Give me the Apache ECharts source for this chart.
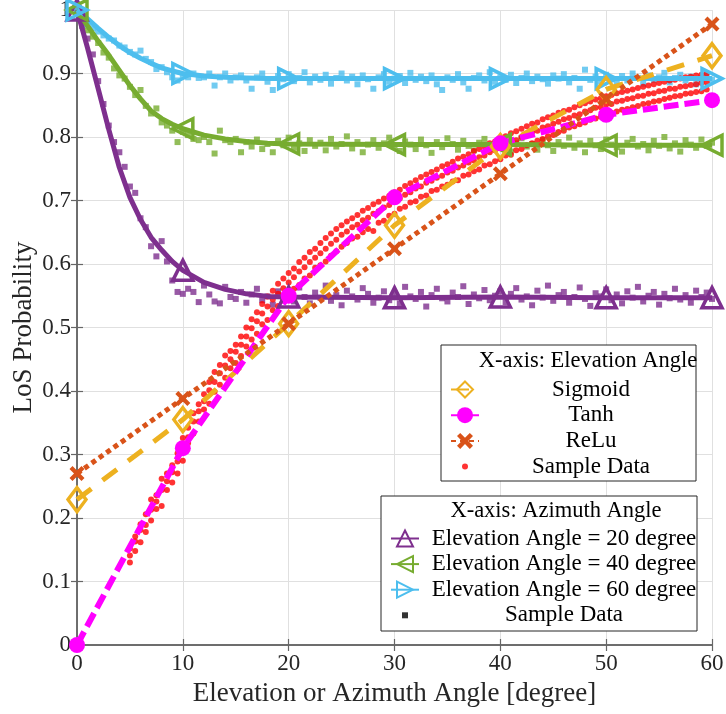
<!DOCTYPE html>
<html>
<head>
<meta charset="utf-8">
<script src="https://cdn.jsdelivr.net/npm/echarts@6/dist/echarts.min.js"></script>
<style>
    html, body { margin: 0; padding: 0; background: #fff; }
    #chart { width: 726px; height: 714px; }
</style>
</head>
<body>
<div id="chart"></div>
<script>
// tick labels
const xTicks = [0, 10, 20, 30, 40, 50, 60];
const yTicks = [0, 0.1, 0.2, 0.3, 0.4, 0.5, 0.6, 0.7, 0.8, 0.9, 1];
const markX = [0, 10, 20, 30, 40, 50, 60];

// azimuth curves (fitted)
const azX = [0, 1, 2, 3, 4, 5, 6, 7, 8, 9, 10, 12, 14, 16, 18, 20, 30, 40, 50, 60];
const elev20 = [1.0, 0.94, 0.876, 0.812, 0.752, 0.705, 0.67, 0.642, 0.622, 0.604, 0.59, 0.571, 0.56, 0.553, 0.549, 0.548, 0.547, 0.548, 0.547, 0.547];
const elev40 = [1.0, 0.975, 0.951, 0.929, 0.905, 0.881, 0.86, 0.841, 0.829, 0.82, 0.813, 0.803, 0.797, 0.793, 0.79, 0.789, 0.788, 0.788, 0.787, 0.787];
const elev60 = [1.0, 0.986, 0.971, 0.957, 0.944, 0.933, 0.924, 0.916, 0.909, 0.904, 0.90, 0.896, 0.894, 0.893, 0.892, 0.892, 0.892, 0.892, 0.892, 0.892];

// elevation curves (fitted)
const elX = [0, 10, 20, 30, 40, 50, 60];
const sigmoid = [0.229, 0.355, 0.506, 0.661, 0.785, 0.875, 0.928];
const tanh = [0, 0.31, 0.55, 0.705, 0.79, 0.835, 0.858];
const relu = [0.27, 0.388, 0.506, 0.624, 0.742, 0.86, 0.978];

// azimuth sample data, x = 0 .. 60 step 0.5
const sqStart = 0, sqStep = 0.5;
const sq20 = [
    1.000, 0.975, 0.955, 0.930, 0.888, 0.852, 0.818, 0.792, 0.776, 0.753,
    0.722, 0.712, 0.672, 0.658, 0.628, 0.612, 0.636, 0.604, 0.574, 0.556,
    0.553, 0.561, 0.556, 0.540, 0.566, 0.552, 0.541, 0.538, 0.564, 0.548,
    0.545, 0.556, 0.539, 0.552, 0.561, 0.543, 0.549, 0.536, 0.557, 0.546,
    0.552, 0.541, 0.563, 0.548, 0.538, 0.555, 0.547, 0.566, 0.542, 0.551,
    0.535, 0.558, 0.549, 0.544, 0.562, 0.553, 0.539, 0.547, 0.557, 0.543,
    0.552, 0.538, 0.564, 0.549, 0.545, 0.556, 0.533, 0.551, 0.561, 0.546,
    0.541, 0.555, 0.548, 0.565, 0.537, 0.552, 0.546, 0.559, 0.543, 0.550,
    0.557, 0.540, 0.553, 0.562, 0.544, 0.549, 0.535, 0.558, 0.547, 0.566,
    0.542, 0.551, 0.556, 0.539, 0.548, 0.563, 0.545, 0.534, 0.554, 0.549,
    0.560, 0.543, 0.552, 0.538, 0.557, 0.547, 0.564, 0.541, 0.550, 0.556,
    0.536, 0.553, 0.546, 0.561, 0.544, 0.551, 0.539, 0.558, 0.548, 0.555,
    0.545
];
const sq40 = [
    1.000, 0.988, 0.968, 0.958, 0.948, 0.933, 0.925, 0.908, 0.897, 0.892,
    0.879, 0.866, 0.874, 0.849, 0.837, 0.845, 0.823, 0.818, 0.810, 0.792,
    0.808, 0.803, 0.797, 0.795, 0.800, 0.792, 0.774, 0.810, 0.795, 0.792,
    0.797, 0.776, 0.792, 0.785, 0.796, 0.781, 0.789, 0.776, 0.794, 0.787,
    0.799, 0.783, 0.790, 0.778, 0.795, 0.786, 0.791, 0.779, 0.797, 0.785,
    0.789, 0.801, 0.782, 0.792, 0.776, 0.788, 0.795, 0.783, 0.790, 0.799,
    0.786, 0.778, 0.793, 0.788, 0.781, 0.796, 0.787, 0.775, 0.792, 0.784,
    0.798, 0.789, 0.780, 0.794, 0.786, 0.779, 0.791, 0.797, 0.782, 0.788,
    0.793, 0.784, 0.777, 0.790, 0.798, 0.785, 0.789, 0.780, 0.795, 0.787,
    0.778, 0.792, 0.786, 0.799, 0.783, 0.790, 0.776, 0.794, 0.787, 0.781,
    0.796, 0.788, 0.784, 0.777, 0.791, 0.797, 0.785, 0.789, 0.779, 0.794,
    0.786, 0.800, 0.782, 0.790, 0.777, 0.795, 0.788, 0.783, 0.796, 0.786,
    0.791
];
const sq60 = [
    1.000, 0.985, 0.977, 0.971, 0.966, 0.960, 0.955, 0.952, 0.944, 0.941,
    0.934, 0.930, 0.936, 0.923, 0.918, 0.907, 0.910, 0.902, 0.894, 0.889,
    0.897, 0.894, 0.900, 0.893, 0.894, 0.900, 0.881, 0.894, 0.900, 0.889,
    0.894, 0.897, 0.889, 0.876, 0.894, 0.900, 0.887, 0.874, 0.896, 0.891,
    0.899, 0.888, 0.893, 0.902, 0.886, 0.895, 0.890, 0.898, 0.884, 0.893,
    0.900, 0.889, 0.895, 0.883, 0.897, 0.891, 0.876, 0.894, 0.899, 0.887,
    0.892, 0.896, 0.885, 0.901, 0.890, 0.895, 0.888, 0.897, 0.883, 0.874,
    0.894, 0.890, 0.899, 0.886, 0.876, 0.893, 0.897, 0.889, 0.902, 0.887,
    0.894, 0.890, 0.898, 0.885, 0.893, 0.900, 0.888, 0.895, 0.891, 0.884,
    0.897, 0.892, 0.899, 0.886, 0.893, 0.876, 0.906, 0.890, 0.895, 0.887,
    0.898, 0.891, 0.885, 0.896, 0.889, 0.900, 0.893, 0.884, 0.897, 0.890,
    0.894, 0.901, 0.886, 0.893, 0.898, 0.889, 0.895, 0.883, 0.892, 0.897,
    0.890
];

// elevation sample data, x = 5 .. 59.5 step 0.5, three samples per angle
const redStart = 5, redStep = 0.5;
const redLow = [
    0.130, 0.148, 0.162, 0.178, 0.196, 0.214, 0.219, 0.244, 0.256, 0.270,
    0.290, 0.318, 0.333, 0.352, 0.371, 0.380, 0.399, 0.410, 0.421, 0.436,
    0.444, 0.455, 0.470, 0.481, 0.490, 0.505, 0.512, 0.527, 0.534, 0.543,
    0.552, 0.561, 0.567, 0.577, 0.582, 0.594, 0.598, 0.604, 0.613, 0.620,
    0.627, 0.633, 0.640, 0.643, 0.650, 0.655, 0.652, 0.665, 0.668, 0.676,
    0.679, 0.687, 0.690, 0.697, 0.699, 0.706, 0.708, 0.715, 0.717, 0.722,
    0.725, 0.730, 0.732, 0.739, 0.741, 0.746, 0.749, 0.755, 0.757, 0.762,
    0.765, 0.771, 0.772, 0.779, 0.781, 0.787, 0.790, 0.794, 0.797, 0.801,
    0.803, 0.808, 0.810, 0.815, 0.817, 0.820, 0.823, 0.827, 0.829, 0.832,
    0.834, 0.838, 0.840, 0.843, 0.844, 0.847, 0.849, 0.852, 0.853, 0.856,
    0.857, 0.860, 0.862, 0.864, 0.865, 0.868, 0.869, 0.871, 0.872, 0.875
];
const redMid = [
    0.141, 0.163, 0.181, 0.189, 0.213, 0.226, 0.244, 0.258, 0.272, 0.289,
    0.314, 0.327, 0.352, 0.368, 0.384, 0.401, 0.414, 0.428, 0.440, 0.450,
    0.462, 0.473, 0.486, 0.499, 0.510, 0.522, 0.533, 0.544, 0.553, 0.562,
    0.571, 0.579, 0.588, 0.595, 0.603, 0.610, 0.617, 0.624, 0.632, 0.638,
    0.646, 0.651, 0.658, 0.662, 0.669, 0.673, 0.679, 0.683, 0.689, 0.693,
    0.699, 0.703, 0.709, 0.713, 0.719, 0.722, 0.728, 0.731, 0.736, 0.739,
    0.744, 0.747, 0.752, 0.755, 0.760, 0.763, 0.768, 0.771, 0.776, 0.779,
    0.784, 0.787, 0.792, 0.795, 0.800, 0.803, 0.808, 0.810, 0.815, 0.817,
    0.821, 0.824, 0.828, 0.830, 0.834, 0.836, 0.840, 0.842, 0.846, 0.847,
    0.851, 0.852, 0.856, 0.857, 0.860, 0.861, 0.864, 0.865, 0.868, 0.869,
    0.872, 0.873, 0.876, 0.876, 0.879, 0.880, 0.882, 0.883, 0.885, 0.886
];
const redHigh = [
    0.152, 0.171, 0.190, 0.206, 0.229, 0.236, 0.262, 0.270, 0.283, 0.302,
    0.326, 0.342, 0.365, 0.379, 0.395, 0.414, 0.430, 0.441, 0.456, 0.463,
    0.473, 0.486, 0.500, 0.513, 0.524, 0.537, 0.549, 0.558, 0.569, 0.577,
    0.586, 0.593, 0.603, 0.610, 0.619, 0.624, 0.633, 0.641, 0.648, 0.655,
    0.661, 0.667, 0.672, 0.677, 0.684, 0.688, 0.694, 0.698, 0.703, 0.707,
    0.713, 0.717, 0.723, 0.727, 0.732, 0.737, 0.741, 0.745, 0.749, 0.754,
    0.757, 0.761, 0.766, 0.769, 0.773, 0.778, 0.781, 0.785, 0.790, 0.793,
    0.797, 0.801, 0.806, 0.809, 0.813, 0.817, 0.821, 0.823, 0.828, 0.831,
    0.834, 0.838, 0.841, 0.843, 0.847, 0.850, 0.853, 0.856, 0.859, 0.861,
    0.864, 0.866, 0.869, 0.871, 0.873, 0.875, 0.877, 0.879, 0.881, 0.883,
    0.885, 0.887, 0.889, 0.890, 0.892, 0.894, 0.895, 0.897, 0.898, 0.900
];

const font = '"Liberation Serif", "DejaVu Serif", serif';
const C20 = '#7E2F8E', C40 = '#77AC30', C60 = '#4DBEEE';
const CSIG = '#EDB120', CTANH = '#FF00FF', CRELU = '#D95319', CRED = '#FF0000';
const crossPath = 'path://M2,0L5,3L8,0L10,2L7,5L10,8L8,10L5,7L2,10L0,8L3,5L0,2Z';
const dotIcon = 'path://M0,0L0,0M28,16L28,16M14,5A3,3 0 1 1 14,11A3,3 0 1 1 14,5Z';
const sqIcon = 'path://M0,0L0,0M28,16L28,16M11,5L17,5L17,11L11,11Z';

let toPoints = (start, step, ys) => ys.map((y, i) => [start + i * step, y]);

let curve = (name, xs, ys, color, symbol, size, rotate, lineStyle, hollow) => ({
    name: name,
    type: 'line',
    data: xs.map((x, i) => ({ value: [x, ys[i]], symbol: markX.includes(x) ? symbol : 'none' })),
    symbol: symbol,
    symbolSize: size,
    symbolRotate: rotate,
    showSymbol: true,
    clip: false,
    z: 4,
    lineStyle: Object.assign({ color: color, width: 5, cap: 'butt' }, lineStyle),
    itemStyle: hollow
        ? { color: 'rgba(255,255,255,0)', borderColor: color, borderWidth: 3.5 }
        : { color: color, borderWidth: 0 },
    emphasis: { disabled: true }
});

let samples = (name, pts, color, symbol) => ({
    name: name,
    type: 'scatter',
    data: pts,
    symbol: symbol,
    symbolSize: 6,
    z: 2,
    itemStyle: { color: color },
    emphasis: { disabled: true }
});

let myChart = echarts.init(document.getElementById('chart'));

let legendText = (width) => ({
    fontFamily: font,
    fontSize: 23,
    color: '#000',
    rich: { c: { width: width, align: 'center', fontFamily: font, fontSize: 23, lineHeight: 24, color: '#000' } }
});

let option = {
    animation: false,
    backgroundColor: '#fff',
    grid: { left: 77, right: 14, top: 10, bottom: 69, containLabel: false, outerBoundsMode: 'none' },
    xAxis: [{
        type: 'value', min: xTicks[0], max: xTicks[xTicks.length - 1], interval: 10,
        name: 'Elevation or Azimuth Angle [degree]', nameLocation: 'middle', nameGap: 35,
        nameTextStyle: { fontFamily: font, fontSize: 27, color: '#262626' },
        axisLine: { show: true, lineStyle: { color: '#666', width: 1.5 } },
        axisTick: { show: true, inside: true, length: 6, lineStyle: { color: '#666', width: 1.2 } },
        axisLabel: { fontFamily: font, fontSize: 23, color: '#262626', margin: 7 },
        splitLine: { show: true, lineStyle: { color: '#e0e0e0', width: 1 } }
    }, {
        type: 'value', position: 'top', min: xTicks[0], max: xTicks[xTicks.length - 1], interval: 10,
        axisLine: { show: true, lineStyle: { color: '#666', width: 1.5 } },
        axisTick: { show: true, inside: true, length: 6, lineStyle: { color: '#666', width: 1.2 } },
        axisLabel: { show: false },
        splitLine: { show: false }
    }],
    yAxis: [{
        type: 'value', min: yTicks[0], max: yTicks[yTicks.length - 1], interval: 0.1,
        name: 'LoS Probability', nameLocation: 'middle', nameGap: 40, nameMoveOverlap: false,
        nameTextStyle: { fontFamily: font, fontSize: 27, color: '#262626' },
        axisLine: { show: true, lineStyle: { color: '#666', width: 1.5 } },
        axisTick: { show: true, inside: true, length: 6, lineStyle: { color: '#666', width: 1.2 } },
        axisLabel: { fontFamily: font, fontSize: 23, color: '#262626', margin: 6 },
        splitLine: { show: true, lineStyle: { color: '#e0e0e0', width: 1 } }
    }, {
        type: 'value', position: 'right', min: yTicks[0], max: yTicks[yTicks.length - 1], interval: 0.1,
        axisLine: { show: true, lineStyle: { color: '#666', width: 1.5 } },
        axisTick: { show: true, inside: true, length: 6, lineStyle: { color: '#666', width: 1.2 } },
        axisLabel: { show: false },
        splitLine: { show: false }
    }],
    legend: [{
        data: [
            { name: 'Sigmoid' }, { name: 'Tanh' }, { name: 'ReLu' },
            { name: 'Sample Data', icon: dotIcon }
        ],
        orient: 'vertical', left: 445, top: 373,
        itemWidth: 28, itemHeight: 20, itemGap: 2.7, itemTextGap: 5,
        selectedMode: false, z: 6,
        textStyle: legendText(214),
        formatter: n => '{c|' + n + '}'
    }, {
        data: [
            { name: 'Elevation Angle = 20 degree' }, { name: 'Elevation Angle = 40 degree' },
            { name: 'Elevation Angle = 60 degree' }, { name: 'Sample Data (azimuth)', icon: sqIcon }
        ],
        orient: 'vertical', left: 385, top: 522,
        itemWidth: 28, itemHeight: 20, itemGap: 2.6, itemTextGap: 5,
        selectedMode: false, z: 6,
        textStyle: legendText(280),
        formatter: n => '{c|' + (n.indexOf('Sample') === 0 ? 'Sample Data' : n) + '}'
    }],
    graphic: [
        { type: 'rect', z: 5, shape: { x: 441, y: 345, width: 255, height: 136 }, style: { fill: '#fff', stroke: '#262626', lineWidth: 1 } },
        { type: 'rect', z: 5, shape: { x: 381, y: 496, width: 316, height: 135 }, style: { fill: '#fff', stroke: '#262626', lineWidth: 1 } },
        { type: 'text', z: 7, style: { text: 'X-axis: Elevation Angle', x: 588, y: 361, textAlign: 'center', textVerticalAlign: 'middle', font: '22.5px ' + font, fill: '#000' } },
        { type: 'text', z: 7, style: { text: 'X-axis: Azimuth Angle', x: 556, y: 511, textAlign: 'center', textVerticalAlign: 'middle', font: '22.5px ' + font, fill: '#000' } }
    ],
    series: [
        samples('sq20', toPoints(sqStart, sqStep, sq20), C20, 'rect'),
        samples('sq40', toPoints(sqStart, sqStep, sq40), C40, 'rect'),
        samples('sq60', toPoints(sqStart, sqStep, sq60), C60, 'rect'),
        samples('Sample Data', toPoints(redStart, redStep, redLow), CRED, 'circle'),
        samples('Sample Data', toPoints(redStart, redStep, redMid), CRED, 'circle'),
        samples('Sample Data', toPoints(redStart, redStep, redHigh), CRED, 'circle'),
        samples('Sample Data (azimuth)', [], '#000', 'rect'),
        curve('Elevation Angle = 20 degree', azX, elev20, C20, 'triangle', 20, 0, {}, true),
        curve('Elevation Angle = 40 degree', azX, elev40, C40, 'triangle', 20, 90, {}, true),
        curve('Elevation Angle = 60 degree', azX, elev60, C60, 'triangle', 20, -90, {}, true),
        curve('Sigmoid', elX, sigmoid, CSIG, 'diamond', [18, 24], 0, { type: [18, 14], width: 5 }, true),
        curve('Tanh', elX, tanh, CTANH, 'circle', 16, 0, { type: [15, 6], width: 6 }, false),
        curve('ReLu', elX, relu, CRELU, crossPath, 15, 0, { type: [5, 4], width: 5 }, false)
    ]
};
myChart.setOption(option);
</script>
</body>
</html>
